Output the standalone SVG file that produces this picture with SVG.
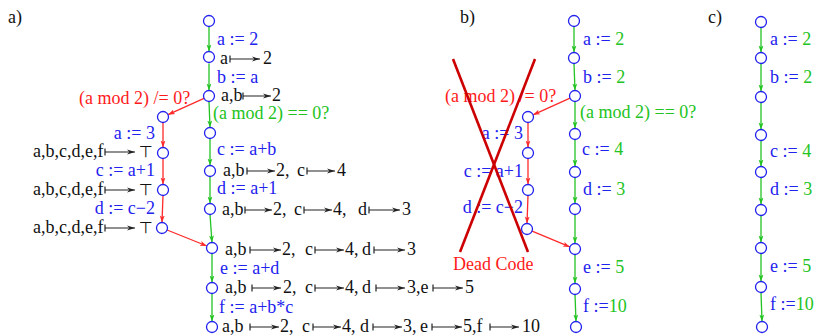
<svg xmlns="http://www.w3.org/2000/svg" width="816" height="335" viewBox="0 0 816 335">
<style>
text{font-family:"Liberation Serif","Times New Roman",serif;font-size:18px}
.k{fill:#111}
.b{fill:#2222ee}
.g{fill:#22c322}
.r{fill:#ff1a1a}
.top{font-family:"DejaVu Sans",sans-serif;font-size:16px;fill:#111}
.nd{fill:#fff;stroke:#2222ee;stroke-width:1.3}
.ge{stroke:#22c322;stroke-width:1.3;fill:none;marker-end:url(#ga)}
.re{stroke:#ff2a2a;stroke-width:1.3;fill:none;marker-end:url(#ra)}
.mt{stroke:#222;stroke-width:1.2;fill:none;marker-end:url(#ka)}
.x{stroke:#cc0000;stroke-width:2.6;fill:none}
</style>
<defs>
<marker id="ga" viewBox="0 0 10 10" refX="10" refY="5" markerWidth="7" markerHeight="7" markerUnits="userSpaceOnUse" orient="auto"><path d="M0,1.5 L10,5 L0,8.5 L2.5,5 z" fill="#22c322"/></marker>
<marker id="ra" viewBox="0 0 10 10" refX="10" refY="5" markerWidth="7" markerHeight="7" markerUnits="userSpaceOnUse" orient="auto"><path d="M0,1.5 L10,5 L0,8.5 L2.5,5 z" fill="#ff2a2a"/></marker>
<marker id="ka" viewBox="0 0 10 10" refX="10" refY="5" markerWidth="8" markerHeight="8" markerUnits="userSpaceOnUse" orient="auto"><path d="M0,2 L10,5 L0,8 L3,5 z" fill="#222"/></marker>
</defs>

<!-- panel labels -->
<text class="k" x="8" y="23">a)</text>
<text class="k" x="460" y="23">b)</text>
<text class="k" x="708" y="23">c)</text>

<!-- ===== Panel a connectors ===== -->
<g id="a-edges">
<path class="ge" d="M209,26.5 V51.5"/>
<path class="ge" d="M209,63.5 V90.5"/>
<path class="ge" d="M209,101.5 L210,127.5"/>
<path class="ge" d="M210,138.5 V165.5"/>
<path class="ge" d="M210,176.5 V203.5"/>
<path class="ge" d="M210,214.5 L212,242.5"/>
<path class="ge" d="M212,253.5 V282.5"/>
<path class="ge" d="M212,293.5 V321.5"/>
<path class="re" d="M204,98.3 L168,114.7"/>
<path class="re" d="M163,122.5 V147.5"/>
<path class="re" d="M163,158.5 V184.5"/>
<path class="re" d="M163,195.5 L162,222.5"/>
<path class="re" d="M167.1,230 L206.9,246"/>
</g>

<!-- Panel a nodes -->
<g id="a-n1"><circle class="nd" cx="209" cy="21" r="5.5"/></g>
<g id="a-n2"><circle class="nd" cx="209" cy="57" r="5.5"/></g>
<g id="a-n3"><circle class="nd" cx="209" cy="96" r="5.5"/></g>
<g id="a-n4"><circle class="nd" cx="210" cy="133" r="5.5"/></g>
<g id="a-n5"><circle class="nd" cx="210" cy="171" r="5.5"/></g>
<g id="a-n6"><circle class="nd" cx="210" cy="209" r="5.5"/></g>
<g id="a-n7"><circle class="nd" cx="212" cy="248" r="5.5"/></g>
<g id="a-n8"><circle class="nd" cx="212" cy="288" r="5.5"/></g>
<g id="a-n9"><circle class="nd" cx="212" cy="327" r="5.5"/></g>
<g id="a-l1"><circle class="nd" cx="163" cy="117" r="5.5"/></g>
<g id="a-l2"><circle class="nd" cx="163" cy="153" r="5.5"/></g>
<g id="a-l3"><circle class="nd" cx="163" cy="190" r="5.5"/></g>
<g id="a-l4"><circle class="nd" cx="162" cy="228" r="5.5"/></g>

<!-- Panel a labels -->
<g id="a-labels">
<text class="b" x="217" y="45">a := 2</text>
<text class="b" x="217" y="83">b := a</text>
<text class="r" x="79" y="104">(a mod 2) /= 0?</text>
<text class="g" x="213" y="119">(a mod 2) == 0?</text>
<text class="b" x="217" y="155">c := a+b</text>
<text class="b" x="217" y="194">d := a+1</text>
<text class="b" x="220" y="274">e := a+d</text>
<text class="b" x="219" y="313">f := a+b*c</text>
<text class="b" x="155" y="139" text-anchor="end">a := 3</text>
<text class="b" x="155" y="176" text-anchor="end">c := a+1</text>
<text class="b" x="155" y="214" text-anchor="end">d := c−2</text>
</g>

<!-- Panel a maps-to annotations -->
<g id="a-facts">
<text class="k" x="220" y="64">a</text><path class="mt" d="M230,55.5 V62.5 M230,59 H260"/><text class="k" x="263" y="64">2</text>

<text class="k" x="221" y="101">a,b</text><path class="mt" d="M243,92.5 V99.5 M243,96 H271"/><text class="k" x="272" y="101">2</text>

<text class="k" x="33" y="157">a,b,c,d,e,f</text><path class="mt" d="M105,148.5 V155.5 M105,152 H135"/><text class="top" x="139" y="157">⊤</text>
<text class="k" x="33" y="195">a,b,c,d,e,f</text><path class="mt" d="M105,186.5 V193.5 M105,190 H135"/><text class="top" x="139" y="195">⊤</text>
<text class="k" x="33" y="233">a,b,c,d,e,f</text><path class="mt" d="M105,224.5 V231.5 M105,228 H135"/><text class="top" x="139" y="233">⊤</text>

<text class="k" x="223" y="176">a,b</text><path class="mt" d="M247,167.5 V174.5 M247,171 H275"/><text class="k" x="276" y="176">2,</text>
<text class="k" x="297" y="176">c</text><path class="mt" d="M307,167.5 V174.5 M307,171 H335"/><text class="k" x="337" y="176">4</text>

<text class="k" x="222" y="215">a,b</text><path class="mt" d="M245,206.5 V213.5 M245,210 H272"/><text class="k" x="273" y="215">2,</text>
<text class="k" x="294" y="215">c</text><path class="mt" d="M304,206.5 V213.5 M304,210 H332"/><text class="k" x="333" y="215">4,</text>
<text class="k" x="358" y="215">d</text><path class="mt" d="M369,206.5 V213.5 M369,210 H400"/><text class="k" x="402" y="215">3</text>

<text class="k" x="225" y="255">a,b</text><path class="mt" d="M250,246.5 V253.5 M250,250 H281"/><text class="k" x="282" y="255">2,</text>
<text class="k" x="305" y="255">c</text><path class="mt" d="M315,246.5 V253.5 M315,250 H344"/><text class="k" x="345" y="255">4,</text>
<text class="k" x="362" y="255">d</text><path class="mt" d="M374,246.5 V253.5 M374,250 H405"/><text class="k" x="407" y="255">3</text>

<text class="k" x="225" y="293">a,b</text><path class="mt" d="M252,284.5 V291.5 M252,288 H281"/><text class="k" x="283" y="293">2,</text>
<text class="k" x="305" y="293">c</text><path class="mt" d="M315,284.5 V291.5 M315,288 H344"/><text class="k" x="345" y="293">4,</text>
<text class="k" x="362" y="293">d</text><path class="mt" d="M376,284.5 V291.5 M376,288 H405"/><text class="k" x="407" y="293">3,e</text>
<path class="mt" d="M433,284.5 V291.5 M433,288 H463"/><text class="k" x="465" y="293">5</text>

<text class="k" x="222" y="332">a,b</text><path class="mt" d="M250,323.5 V330.5 M250,327 H279"/><text class="k" x="280" y="332">2,</text>
<text class="k" x="302" y="332">c</text><path class="mt" d="M313,323.5 V330.5 M313,327 H341"/><text class="k" x="342" y="332">4,</text>
<text class="k" x="360" y="332">d</text><path class="mt" d="M373,323.5 V330.5 M373,327 H402"/><text class="k" x="403" y="332">3,</text>
<text class="k" x="420" y="332">e</text><path class="mt" d="M432,323.5 V330.5 M432,327 H462"/><text class="k" x="463" y="332">5,f</text>
<path class="mt" d="M490,323.5 V330.5 M490,327 H519"/><text class="k" x="522" y="332">10</text>
</g>

<!-- ===== Panel b connectors ===== -->
<g id="b-edges">
<path class="ge" d="M574,26.5 V52.5"/>
<path class="ge" d="M574,63.5 L575,90.5"/>
<path class="ge" d="M575,101.5 V128.5"/>
<path class="ge" d="M575,139.5 V166.5"/>
<path class="ge" d="M575,177.5 V203.5"/>
<path class="ge" d="M575,214.5 V243.5"/>
<path class="ge" d="M575,254.5 V283.5"/>
<path class="ge" d="M575,294.5 L576,321.5"/>
<path class="re" d="M570,98.2 L533,114.8"/>
<path class="re" d="M528,122.5 V147.5"/>
<path class="re" d="M528,158.5 V184.5"/>
<path class="re" d="M528,195.5 L527,223.5"/>
<path class="re" d="M532.1,231.1 L569.9,246.9"/>
</g>

<g id="b-n1"><circle class="nd" cx="574" cy="21" r="5.5"/></g>
<g id="b-n2"><circle class="nd" cx="574" cy="58" r="5.5"/></g>
<g id="b-n3"><circle class="nd" cx="575" cy="96" r="5.5"/></g>
<g id="b-n4"><circle class="nd" cx="575" cy="134" r="5.5"/></g>
<g id="b-n5"><circle class="nd" cx="575" cy="172" r="5.5"/></g>
<g id="b-n6"><circle class="nd" cx="575" cy="209" r="5.5"/></g>
<g id="b-n7"><circle class="nd" cx="575" cy="249" r="5.5"/></g>
<g id="b-n8"><circle class="nd" cx="575" cy="289" r="5.5"/></g>
<g id="b-n9"><circle class="nd" cx="576" cy="327" r="5.5"/></g>
<g id="b-l1"><circle class="nd" cx="528" cy="117" r="5.5"/></g>
<g id="b-l2"><circle class="nd" cx="528" cy="153" r="5.5"/></g>
<g id="b-l3"><circle class="nd" cx="528" cy="190" r="5.5"/></g>
<g id="b-l4"><circle class="nd" cx="527" cy="229" r="5.5"/></g>

<g id="b-labels">
<text class="b" x="583" y="45">a := <tspan class="g">2</tspan></text>
<text class="b" x="583" y="83">b := <tspan class="g">2</tspan></text>
<text class="r" x="445" y="102">(a mod 2) /= 0?</text>
<text class="g" x="580" y="118">(a mod 2) == 0?</text>
<text class="b" x="582" y="155">c := <tspan class="g">4</tspan></text>
<text class="b" x="583" y="195">d := <tspan class="g">3</tspan></text>
<text class="b" x="583" y="273">e := <tspan class="g">5</tspan></text>
<text class="b" x="583" y="312">f :=<tspan class="g">10</tspan></text>
<text class="b" x="523" y="139" text-anchor="end">a := 3</text>
<text class="b" x="523" y="177" text-anchor="end">c := a+1</text>
<text class="b" x="523" y="213" text-anchor="end">d := c−2</text>
</g>

<g id="b-deadcode">
<path class="x" d="M453,59 L528,252"/>
<path class="x" d="M535,59 L460,252"/>
<text class="r" x="453" y="270">Dead Code</text>
</g>

<!-- ===== Panel c ===== -->
<g id="c-edges">
<path class="ge" d="M761,27.5 V52.5"/>
<path class="ge" d="M761,63.5 V91.5"/>
<path class="ge" d="M761,102.5 V129.5"/>
<path class="ge" d="M761,140.5 V166.5"/>
<path class="ge" d="M761,177.5 V204.5"/>
<path class="ge" d="M761,215.5 V242.5"/>
<path class="ge" d="M761,253.5 V281.5"/>
<path class="ge" d="M761,292.5 L762,321.5"/>
</g>
<g id="c-n1"><circle class="nd" cx="761" cy="22" r="5.5"/></g>
<g id="c-n2"><circle class="nd" cx="761" cy="58" r="5.5"/></g>
<g id="c-n3"><circle class="nd" cx="761" cy="97" r="5.5"/></g>
<g id="c-n4"><circle class="nd" cx="761" cy="135" r="5.5"/></g>
<g id="c-n5"><circle class="nd" cx="761" cy="172" r="5.5"/></g>
<g id="c-n6"><circle class="nd" cx="761" cy="210" r="5.5"/></g>
<g id="c-n7"><circle class="nd" cx="761" cy="248" r="5.5"/></g>
<g id="c-n8"><circle class="nd" cx="761" cy="287" r="5.5"/></g>
<g id="c-n9"><circle class="nd" cx="762" cy="327" r="5.5"/></g>
<g id="c-labels">
<text class="b" x="770" y="45">a := <tspan class="g">2</tspan></text>
<text class="b" x="770" y="83">b := <tspan class="g">2</tspan></text>
<text class="b" x="770" y="157">c := <tspan class="g">4</tspan></text>
<text class="b" x="770" y="195">d := <tspan class="g">3</tspan></text>
<text class="b" x="770" y="272">e := <tspan class="g">5</tspan></text>
<text class="b" x="770" y="310">f :=<tspan class="g">10</tspan></text>
</g>
</svg>
